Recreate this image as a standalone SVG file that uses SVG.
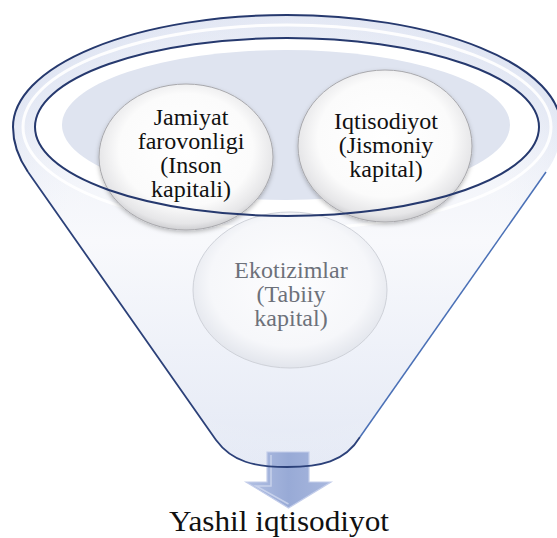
<svg xmlns="http://www.w3.org/2000/svg" width="557" height="538" viewBox="0 0 557 538">
<defs>
<style>
.lbl{font-family:"Liberation Serif","DejaVu Serif",serif;font-size:24px;text-anchor:middle;fill:#111}
.faded{fill:#6d717a}
.big{font-family:"Liberation Serif","DejaVu Serif",serif;font-size:29px;text-anchor:middle;fill:#111}
.disc{fill:url(#discGrad);stroke:#a8a8ac;stroke-width:1;filter:url(#shadow)}
.discFaded{fill:url(#discGradF);stroke:#cfd2d9;stroke-width:1}
.navy{fill:none;stroke:#26396e;stroke-width:2}
</style>
<linearGradient id="bodyGrad" x1="0" y1="0" x2="0" y2="1">
<stop offset="0" stop-color="#e6eaf5"/>
<stop offset="0.5" stop-color="#f8f9fc"/>
<stop offset="1" stop-color="#e4e9f5"/>
</linearGradient>
<radialGradient id="bodySide" cx="0.5" cy="0.55" r="0.6">
<stop offset="0.6" stop-color="#ffffff" stop-opacity="0"/>
<stop offset="1" stop-color="#d3dbee" stop-opacity="0.4"/>
</radialGradient>
<radialGradient id="discGrad" cx="0.5" cy="0.45" r="0.55">
<stop offset="0" stop-color="#ffffff"/>
<stop offset="0.7" stop-color="#fbfbfb"/>
<stop offset="0.92" stop-color="#e6e6e8"/>
<stop offset="1" stop-color="#cfcfd2"/>
</radialGradient>
<radialGradient id="discGradF" cx="0.5" cy="0.45" r="0.55">
<stop offset="0" stop-color="#fdfdfe"/>
<stop offset="0.75" stop-color="#f6f7fa"/>
<stop offset="1" stop-color="#e2e5ec"/>
</radialGradient>
<linearGradient id="arrowGrad" x1="0" y1="0" x2="1" y2="0">
<stop offset="0" stop-color="#b2c0e3"/>
<stop offset="0.5" stop-color="#98aad6"/>
<stop offset="1" stop-color="#a9b8de"/>
</linearGradient>
<filter id="shadow" x="-10%" y="-10%" width="120%" height="130%">
<feDropShadow dx="0" dy="2" stdDeviation="2" flood-color="#000" flood-opacity="0.25"/>
</filter>
</defs>
<rect width="557" height="538" fill="#ffffff"/>

<g id="funnel">
<path id="funnelBody" d="M13,127 A274,112 0 0 1 561,127 Q561,152 546,172 L360,437 C345,462 320,467 287,467 C255,467 232,462 216,440 L28,172 Q13,150 13,127 Z" fill="url(#bodyGrad)"/>
<path d="M13,127 A274,112 0 0 1 561,127 Q561,152 546,172 L360,437 C345,462 320,467 287,467 C255,467 232,462 216,440 L28,172 Q13,150 13,127 Z" fill="url(#bodySide)"/>
<ellipse cx="287" cy="127" rx="264" ry="102" fill="none" stroke="#ffffff" stroke-width="3" opacity="0.9"/>
<ellipse cx="287" cy="127" rx="252" ry="89" fill="#ffffff"/>
<ellipse cx="286" cy="125" rx="224" ry="75" fill="#dfe4f0"/>
</g>

<g id="connectors">
<path d="M267,452 L309,452 L309,482 L331,482 L288.5,508 L246,482 L267,482 Z" fill="url(#arrowGrad)" stroke="#c3cdea" stroke-width="1.2"/>
<path d="M271,455 L271,486 L256,486 L288.5,504" fill="none" stroke="#cfd8ef" stroke-width="1.5" opacity="0.8"/>
</g>

<g id="node-jamiyat">
<ellipse class="disc" cx="186" cy="157" rx="87" ry="73"/>
<text class="lbl" x="191" y="125">Jamiyat</text>
<text class="lbl" x="191" y="149">farovonligi</text>
<text class="lbl" x="191" y="173">(Inson</text>
<text class="lbl" x="191" y="197">kapitali)</text>
</g>

<g id="node-iqtisodiyot">
<ellipse class="disc" cx="385" cy="146" rx="87" ry="76"/>
<text class="lbl" x="386" y="129">Iqtisodiyot</text>
<text class="lbl" x="386" y="153">(Jismoniy</text>
<text class="lbl" x="386" y="177">kapital)</text>
</g>

<g id="node-ekotizimlar">
<ellipse class="discFaded" cx="290" cy="290" rx="97" ry="78"/>
<text class="lbl faded" x="291" y="278">Ekotizimlar</text>
<text class="lbl faded" x="291" y="302">(Tabiiy</text>
<text class="lbl faded" x="291" y="326">kapital)</text>
</g>

<g id="funnel-lines">
<ellipse class="navy" cx="287" cy="127" rx="252" ry="89"/>
<path d="M28,172 Q13,150 13,127 A274,112 0 0 1 561,127" class="navy"/>
<path d="M28,172 L216,440 C232,462 255,467 287,467 C320,467 345,462 360,437" fill="none" stroke="#2c4179" stroke-width="1.8"/>
<path d="M360,437 L546,172" fill="none" stroke="#4a70b6" stroke-width="1.5"/>
</g>

<g id="node-yashil">
<text class="big" x="279" y="531" textLength="220" lengthAdjust="spacingAndGlyphs">Yashil iqtisodiyot</text>
</g>
</svg>
